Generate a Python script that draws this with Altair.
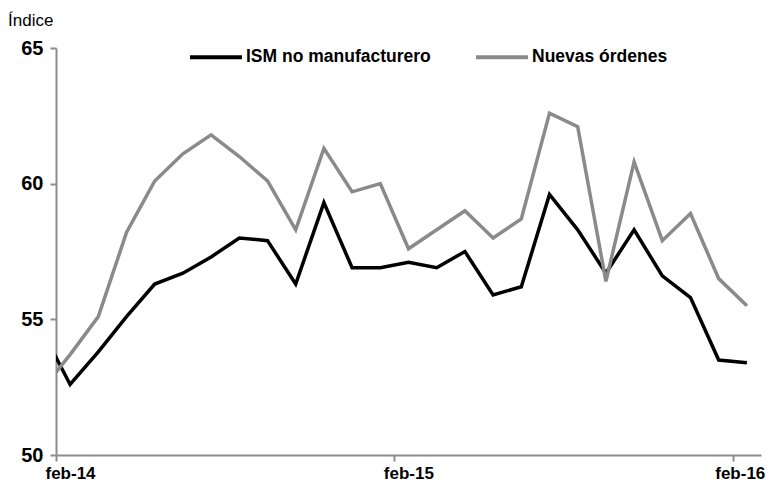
import altair as alt
import pandas as pd

months = ["ene-14", "feb-14", "mar-14", "abr-14", "may-14", "jun-14", "jul-14", "ago-14",
          "sep-14", "oct-14", "nov-14", "dic-14", "ene-15", "feb-15", "mar-15", "abr-15",
          "may-15", "jun-15", "jul-15", "ago-15", "sep-15", "oct-15", "nov-15", "dic-15",
          "ene-16", "feb-16"]
ism = [54.6, 52.6, 53.8, 55.1, 56.3, 56.7, 57.3, 58.0, 57.9, 56.3, 59.3, 56.9, 56.9,
       57.1, 56.9, 57.5, 55.9, 56.2, 59.6, 58.3, 56.7, 58.3, 56.6, 55.8, 53.5, 53.4]
nuevas = [52.4, 53.7, 55.1, 58.2, 60.1, 61.1, 61.8, 61.0, 60.1, 58.3, 61.3, 59.7, 60.0,
          57.6, 58.3, 59.0, 58.0, 58.7, 62.6, 62.1, 56.4, 60.8, 57.9, 58.9, 56.5, 55.5]
series = ["ISM no manufacturero", "Nuevas órdenes"]
colors = ["#000000", "#8a8a8a"]
tick_labels = ["feb-14", "feb-15", "feb-16"]

rows = []
for i, m in enumerate(months):
    rows.append({"mes": m, "pos": i - 1, "serie": series[0], "valor": ism[i]})
for i, m in enumerate(months):
    rows.append({"mes": m, "pos": i - 1, "serie": series[1], "valor": nuevas[i]})
df = pd.DataFrame(rows)

FONT = "Liberation Sans, Arial, sans-serif"

x = alt.X("pos:Q",
          scale=alt.Scale(domain=[-0.5, 24.5], nice=False, zero=False),
          axis=alt.Axis(values=[-0.5, 11.5, 23.5], title=None, grid=False,
                        labelExpr="datum.value < 0 ? '%s' : (datum.value < 12 ? '%s' : '%s')" % tuple(tick_labels),
                        labelOffset={"condition": {"test": "datum.value > 20", "value": 32}, "value": 14},
                        labelAlign={"condition": {"test": "datum.value > 20", "value": "right"}, "value": "center"},
                        labelFontSize=17,
                        labelFontWeight="bold", labelFont=FONT, labelColor="#000",
                        domainColor="#8c8c8c", domainWidth=2, tickColor="#8c8c8c",
                        tickWidth=2, tickSize=6, labelPadding=4, labelBound=False,
                        labelOverlap=False))
y = alt.Y("valor:Q",
          scale=alt.Scale(domain=[50, 65], nice=False, zero=False),
          axis=alt.Axis(values=[50, 55, 60, 65], title=None, grid=False,
                        labelFontSize=20, labelFontWeight="bold", labelFont=FONT,
                        labelColor="#000", domainColor="#8c8c8c", domainWidth=2,
                        tickColor="#8c8c8c", tickWidth=2, tickSize=6, labelPadding=7))
color = alt.Color("serie:N",
                  scale=alt.Scale(domain=series, range=colors),
                  legend=alt.Legend(title=None, orient="none", direction="horizontal",
                                    legendX=132, legendY=-19, symbolType="stroke",
                                    symbolSize=2700, symbolStrokeWidth=4,
                                    labelFontSize=17.5, labelFontWeight="bold",
                                    labelFont=FONT, labelColor="#000",
                                    columnPadding=37, labelOffset=2, labelLimit=400))

base = alt.Chart(df).mark_line(strokeWidth=3.5, clip=True).encode(x=x, y=y, color=color)
l1 = base.transform_filter(alt.datum.serie == series[0])
l2 = base.transform_filter(alt.datum.serie == series[1])

chart = alt.layer(l1, l2).properties(
    width=705, height=407,
    autosize=alt.AutoSizeParams(type="none"),
    padding={"left": 48, "top": 40, "right": 4, "bottom": 29},
    title=alt.TitleParams("Índice", anchor="start", frame="group", dx=-48, offset=8, dy=9,
                          fontSize=17, fontWeight="normal", font=FONT, color="#000"),
).configure_view(stroke=None)

chart.save("out.html", embed_options={"renderer": "svg", "actions": False})
